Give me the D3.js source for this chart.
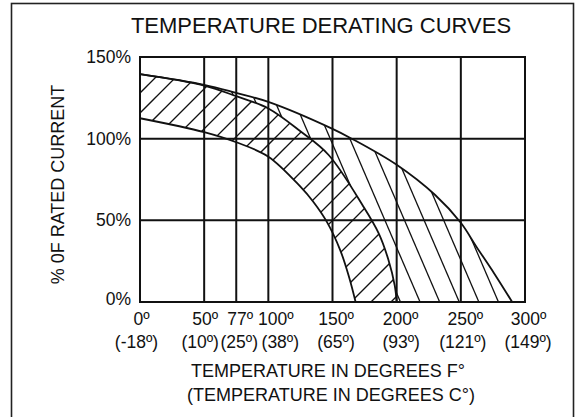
<!DOCTYPE html>
<html><head><meta charset="utf-8">
<script src="https://cdn.jsdelivr.net/npm/d3@7"></script>
<style>
html,body{margin:0;padding:0;background:#fff;}
svg{display:block;}
text{font-family:"Liberation Sans",Arial,Helvetica,sans-serif;fill:#111;}
</style>
</head><body>
<svg id="chart" width="582" height="417"></svg>
<script>
// ---------- DATA ----------
const chartTitle = "TEMPERATURE DERATING CURVES";
const yTitle = "% 0F RATED CURRENT";
const xTitleF = "TEMPERATURE IN DEGREES F°";
const xTitleC = "(TEMPERATURE IN DEGREES C°)";

const tempF = [0, 50, 77, 100, 150, 200, 250, 300];
const tempFLabels = ["0º", "50º", "77º", "100º", "150º", "200º", "250º", "300º"];
const tempCLabels = ["(-18º)", "(10º)", "(25º)", "(38º)", "(65º)", "(93º)", "(121º)", "(149º)"];
const pctTicks = [0, 50, 100, 150];
const pctLabels = ["0%", "50%", "100%", "150%"];

// upper curve (outer limit)
const upperF   = [0, 50, 77, 100, 150, 165, 200, 230, 250, 262, 276, 290];
const upperPct = [139.5, 133, 128, 122.5, 106, 100, 84, 65.5, 48.5, 34, 17.5, 0];
// middle curve
const middleF   = [0, 50, 77, 100, 125, 147, 174, 186, 193.5, 198.5, 200];
const middlePct = [139.5, 132.5, 126, 118.5, 104.5, 90, 58.5, 42, 26, 10, 0];
// lower curve
const lowerF   = [0, 50, 77, 100, 125, 135, 145.5, 156, 163, 168];
const lowerPct = [112.5, 104, 97.8, 89, 70.6, 61.4, 49.2, 31.8, 15, 0];

// ---------- LAYOUT ----------
const svg = d3.select("#chart");
const P = {left: 140, right: 525, top: 57, bottom: 302};

const xLin = d3.scaleLinear().domain([0, 300]).range([P.left, P.right]);
// the original axis places 77° midway between 50° and 100°
const x = d3.scaleLinear().domain([0, 50, 77, 100, 300]).range([0, 50, 75, 100, 300].map(xLin));
const y = d3.scaleLinear().domain([0, 150]).range([P.bottom, P.top]);

// label nudges (px) used by the original to keep crowded labels apart
const fNudge = [1.5, 1, 4, 7.5, 3.5, 4, 4.5, 3.5];
const cNudge = [-3.5, -4, 3, 12, 3.5, 4.5, 2, 3];

const zip = (a, b) => a.map((v, i) => [v, b[i]]);
const upper = zip(upperF, upperPct);
const middle = zip(middleF, middlePct);
const lower = zip(lowerF, lowerPct);

const line = d3.line().x(d => x(d[0])).y(d => y(d[1])).curve(d3.curveCatmullRom.alpha(0.5));

// outer border (bottom edge lies outside the picture)
svg.append("rect").attr("x", 11.5).attr("y", 3.5).attr("width", 562).attr("height", 430)
  .attr("fill", "none").attr("stroke", "#222").attr("stroke-width", 1.6);

// title
svg.append("text").attr("x", 321).attr("y", 33).attr("text-anchor", "middle")
  .attr("font-size", 22).text(chartTitle);

// grid
const grid = svg.append("g").attr("stroke", "#111").attr("stroke-width", 2);
grid.selectAll(".vx").data(tempF).join("line")
  .attr("x1", d => x(d)).attr("x2", d => x(d)).attr("y1", P.top).attr("y2", P.bottom);
grid.selectAll(".hy").data(pctTicks).join("line")
  .attr("y1", d => y(d)).attr("y2", d => y(d)).attr("x1", P.left).attr("x2", P.right);

// band clip paths
const defs = svg.append("defs");
function bandPath(top, bottom) {
  const a = line(top);
  const b = line(bottom.slice().reverse());
  return a + "L" + b.slice(1) + "Z";
}
defs.append("clipPath").attr("id", "band1").append("path").attr("d", bandPath(middle, lower));
defs.append("clipPath").attr("id", "band2").append("path").attr("d", bandPath(upper, middle));

function hatch(clipId, slope, c0, step) {
  const g = svg.append("g").attr("clip-path", `url(#${clipId})`)
    .attr("stroke", "#111").attr("stroke-width", 1.3);
  const cs = d3.range(c0, 900, step);
  g.selectAll("line").data(cs).join("line")
    .attr("x1", c => c + slope * P.top).attr("y1", P.top)
    .attr("x2", c => c + slope * P.bottom).attr("y2", P.bottom);
}
hatch("band1", -1, 193, 20);
hatch("band2", 0.43, 15.8, 19.6);

// curves
const curves = svg.append("g").attr("fill", "none").attr("stroke", "#111").attr("stroke-width", 1.8);
[upper, middle, lower].forEach(c => curves.append("path").attr("d", line(c)));

// frame
svg.append("rect").attr("x", P.left).attr("y", P.top)
  .attr("width", P.right - P.left).attr("height", P.bottom - P.top)
  .attr("fill", "none").attr("stroke", "#111").attr("stroke-width", 2);

// y tick labels
svg.selectAll(".yl").data(pctTicks).join("text")
  .attr("x", P.left - 9).attr("y", d => y(d) - (d === 0 ? 3 : 0)).attr("dy", "0.35em")
  .attr("text-anchor", "end").attr("font-size", 17.5)
  .text((d, i) => pctLabels[i]);

// x tick labels
svg.selectAll(".xf").data(tempF).join("text")
  .attr("x", (d, i) => x(d) + fNudge[i]).attr("y", 325).attr("text-anchor", "middle").attr("font-size", 17.5)
  .text((d, i) => tempFLabels[i]);
svg.selectAll(".xc").data(tempF).join("text")
  .attr("x", (d, i) => x(d) + cNudge[i]).attr("y", 348).attr("text-anchor", "middle").attr("font-size", 17.5)
  .text((d, i) => tempCLabels[i]);

// axis titles
svg.append("text").attr("x", 328).attr("y", 377).attr("text-anchor", "middle")
  .attr("font-size", 18).text(xTitleF);
svg.append("text").attr("x", 331).attr("y", 401).attr("text-anchor", "middle")
  .attr("font-size", 18).text(xTitleC);
svg.append("text").attr("transform", "translate(64,184.5) rotate(-90)")
  .attr("text-anchor", "middle").attr("font-size", 18).text(yTitle);
</script>
</body></html>
